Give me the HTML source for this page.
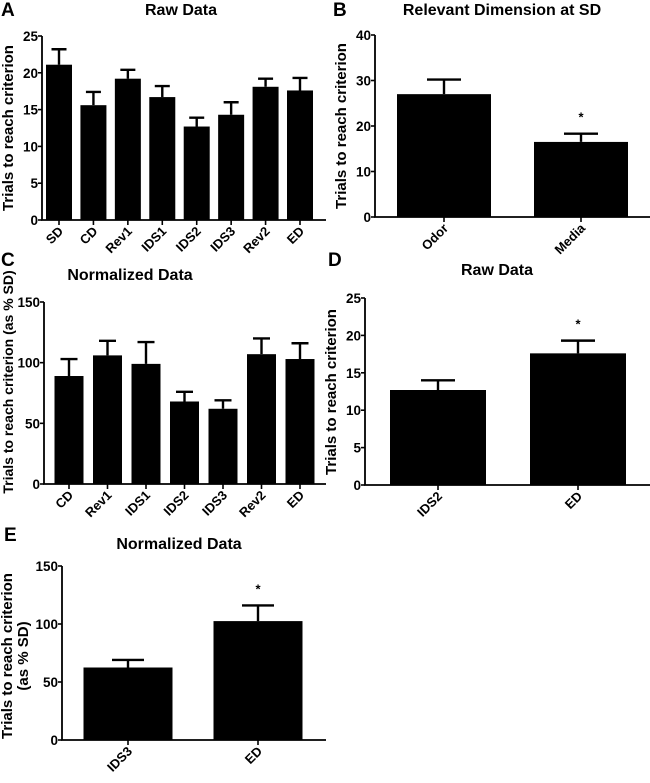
<!DOCTYPE html>
<html><head><meta charset="utf-8">
<style>
body{margin:0;background:#fff;width:650px;height:778px;overflow:hidden;}
svg{font-family:"Liberation Sans",Arial,sans-serif;font-weight:bold;}
</style></head>
<body>
<svg id="fig" width="650" height="778" viewBox="0 0 650 778" xmlns="http://www.w3.org/2000/svg"></svg>
<script>
// Panel A
const catsA=["SD","CD","Rev1","IDS1","IDS2","IDS3","Rev2","ED"];
const valsA=[21.1,15.6,19.2,16.7,12.7,14.3,18.1,17.6];
const errA=[2.1,1.8,1.2,1.5,1.2,1.7,1.1,1.7];
const ticksA=[0,5,10,15,20,25];
// Panel B
const catsB=["Odor","Media"];
const valsB=[27.0,16.5];
const errB=[3.2,1.8];
const ticksB=[0,10,20,30,40];
const starsB=[false,true];
// Panel C
const catsC=["CD","Rev1","IDS1","IDS2","IDS3","Rev2","ED"];
const valsC=[89,106,99,68,62,107,103];
const errC=[14,12,18,8,7,13,13];
const ticksC=[0,50,100,150];
// Panel D
const catsD=["IDS2","ED"];
const valsD=[12.7,17.6];
const errD=[1.3,1.7];
const ticksD=[0,5,10,15,20,25];
const starsD=[false,true];
// Panel E
const catsE=["IDS3","ED"];
const valsE=[62.5,102.5];
const errE=[6.5,13.5];
const ticksE=[0,50,100,150];
const starsE=[false,true];

const NS="http://www.w3.org/2000/svg";
const svg=document.getElementById('fig');
function mk(tag,attrs,parent){const e=document.createElementNS(NS,tag);for(const k in attrs)e.setAttribute(k,attrs[k]);(parent||svg).appendChild(e);return e;}

function panel(p){
  const g=mk('g',{});
  
  
  const ymax=p.ticks[p.ticks.length-1];
  const ys=v=>p.y0-(v/ymax)*(p.y0-p.yTop);
  const n=p.cats.length;
  const xs=i=>p.c0+i*(n>1?(p.c1-p.c0)/(n-1):0);
  const L=mk('text',{x:p.lx,y:p.ly,'font-size':19,fill:'#000'},g);L.textContent=p.letter;
  
  
  const T=mk('text',{x:p.tx,y:p.ty,'font-size':16,'text-anchor':'middle',fill:'#000'},g);T.textContent=p.title;
  
  
  const yt=mk('text',{transform:`translate(${p.ylx},${p.yly}) rotate(-90)`,'font-size':p.yfs||15,'text-anchor':'middle',fill:'#000'},g);
  
  
  p.ylab.forEach((s,k)=>{const ts=mk('tspan',{x:0,dy:k?16:0},yt);ts.textContent=s;});
  p.vals.forEach((v,i)=>{
    const cx=xs(i);
    const r=mk('rect',{x:cx-p.bw/2,y:ys(v),width:p.bw,height:p.y0-ys(v),fill:'#000'},g);
    
    
    const top=ys(v+p.err[i]);
    const eb=mk('path',{d:`M${cx},${ys(v)}V${top}M${cx-p.cw/2},${top}H${cx+p.cw/2}`,stroke:'#000','stroke-width':2.4,fill:'none'},g);
    
    
    if(p.stars&&p.stars[i]){
      const st=mk('text',{x:cx,y:top-12,'font-size':13,'text-anchor':'middle',fill:'#000'},g);st.textContent='*';
      
      
    }
    mk('line',{x1:cx,x2:cx,y1:p.y0,y2:p.y0+5,stroke:'#000','stroke-width':1.6},g);
    const lab=mk('text',{transform:`translate(${cx+5},${p.y0+12}) rotate(-45)`,'font-size':13,'text-anchor':'end',fill:'#000'},g);
    lab.textContent=p.cats[i];
    
    
  });
  const ax=mk('path',{d:`M${p.ax},${p.yTop}V${p.y0}H${p.xEnd}`,stroke:'#000','stroke-width':1.8,fill:'none'},g);
  
  
  p.ticks.forEach(t=>{
    mk('line',{x1:p.ax-4,x2:p.ax,y1:ys(t),y2:ys(t),stroke:'#000','stroke-width':1.6},g);
    const tl=mk('text',{x:p.ax-4,y:ys(t)+5,'font-size':13.5,'text-anchor':'end',fill:'#000'},g);tl.textContent=t;
    
    
  });
}
panel({id:'a',letter:'A',lx:1,ly:16,title:'Raw Data',tx:181,ty:15,cats:catsA,vals:valsA,err:errA,ticks:ticksA,
  ax:42,y0:220,yTop:36,xEnd:326,c0:59,c1:300,bw:26,cw:15,ylab:['Trials to reach criterion'],ylx:13,yly:128});
panel({id:'b',letter:'B',lx:333,ly:16,title:'Relevant Dimension at SD',tx:502,ty:15,cats:catsB,vals:valsB,err:errB,ticks:ticksB,stars:starsB,
  ax:375,y0:217,yTop:35,xEnd:650,c0:444,c1:581,bw:94,cw:34,ylab:['Trials to reach criterion'],ylx:346,yly:126});
panel({id:'c',letter:'C',lx:1,ly:266,title:'Normalized Data',tx:130,ty:280,cats:catsC,vals:valsC,err:errC,ticks:ticksC,
  ax:44,y0:484,yTop:302,xEnd:326,c0:69,c1:300,bw:29,cw:17,ylab:['Trials to reach criterion (as % SD)'],ylx:13,yly:382,yfs:14});
panel({id:'d',letter:'D',lx:328,ly:266,title:'Raw Data',tx:497,ty:275,cats:catsD,vals:valsD,err:errD,ticks:ticksD,stars:starsD,
  ax:365,y0:485,yTop:298,xEnd:650,c0:438,c1:578,bw:96,cw:34,ylab:['Trials to reach criterion'],ylx:336,yly:392});
panel({id:'e',letter:'E',lx:4,ly:541,title:'Normalized Data',tx:179,ty:549,cats:catsE,vals:valsE,err:errE,ticks:ticksE,stars:starsE,
  ax:62,y0:740,yTop:566,xEnd:326,c0:128,c1:258,bw:89,cw:32,ylab:['Trials to reach criterion','(as % SD)'],ylx:12,yly:656});
</script>
</body></html>
